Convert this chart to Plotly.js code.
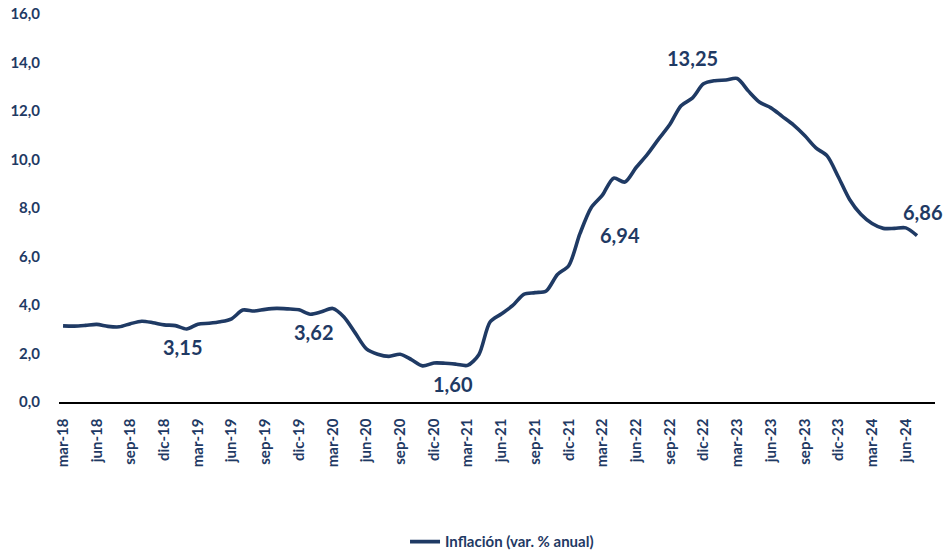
<!DOCTYPE html>
<html>
<head>
<meta charset="utf-8">
<script src="https://cdn.plot.ly/plotly-3.0.1.min.js"></script>
<style>
  html, body { margin: 0; padding: 0; background: #ffffff; }
  #chart { width: 946px; height: 552px; }
</style>
</head>
<body>
<div id="chart"></div>
<script>
// Month names (Spanish abbreviations) and years used to label the monthly categories
const monthNames = ['ene','feb','mar','abr','may','jun','jul','ago','sep','oct','nov','dic'];
const startYear = 2018, startMonth = 2; // mar-18 (0-based month index)

// Annual inflation (var. % anual), monthly from mar-18 to jul-24
const inflation2018 = [3.14, 3.13, 3.16, 3.20, 3.12, 3.10, 3.23, 3.33, 3.27, 3.18];            // mar-dic
const inflation2019 = [3.15, 3.01, 3.21, 3.25, 3.31, 3.43, 3.79, 3.75, 3.82, 3.86, 3.84, 3.80];
const inflation2020 = [3.62, 3.72, 3.86, 3.51, 2.85, 2.19, 1.97, 1.88, 1.97, 1.75, 1.49, 1.61];
const inflation2021 = [1.60, 1.56, 1.51, 1.95, 3.30, 3.63, 3.97, 4.44, 4.51, 4.58, 5.26, 5.62];
const inflation2022 = [6.94, 8.01, 8.53, 9.23, 9.07, 9.67, 10.21, 10.84, 11.44, 12.22, 12.53, 13.12];
const inflation2023 = [13.25, 13.28, 13.34, 12.82, 12.36, 12.13, 11.78, 11.43, 10.99, 10.48, 10.15, 9.28];
const inflation2024 = [8.35, 7.74, 7.36, 7.16, 7.16, 7.18, 6.86];                               // ene-jul

const values = [].concat(inflation2018, inflation2019, inflation2020, inflation2021,
                         inflation2022, inflation2023, inflation2024);

// Category labels
const categories = values.map((v, i) => {
  const m = (startMonth + i) % 12;
  const y = startYear + Math.floor((startMonth + i) / 12);
  return monthNames[m] + '-' + String(y).slice(2);
});

// Tick labels shown every 3 months (mar, jun, sep, dic)
const tickLabels = categories.filter((c, i) => i % 3 === 0);

// Highlighted data labels
const labelledMonths = ['ene-19', 'ene-20', 'ene-21', 'ene-22', 'ene-23', 'jul-24'];
const labelOffsets = {
  'ene-19': [7, -21], 'ene-20': [3, -18], 'ene-21': [8, -21],
  'ene-22': [40, -1], 'ene-23': [-22, 23], 'jul-24': [5, 24]
};

const blue = '#1F3A64';
const font = 'Lato, "Open Sans", sans-serif';

const trace = {
  type: 'scatter',
  mode: 'lines',
  name: 'Inflación (var. % anual)',
  x: categories,
  y: values,
  line: { color: blue, width: 3.6, shape: 'spline', smoothing: 0.8 },
  hoverinfo: 'x+y'
};

const annotations = labelledMonths.map(c => {
  const i = categories.indexOf(c);
  return {
    x: c, y: values[i], xref: 'x', yref: 'y',
    text: values[i].toFixed(2).replace('.', ','),
    showarrow: false,
    xshift: labelOffsets[c][0], yshift: labelOffsets[c][1],
    font: { family: font, size: 20, color: blue, weight: 'bold' }
  };
});

const layout = {
  width: 946, height: 552,
  margin: { l: 59, r: 11, t: 14, b: 150, pad: 0, autoexpand: false },
  paper_bgcolor: '#ffffff', plot_bgcolor: '#ffffff',
  separators: ',.',
  font: { family: font, color: blue, weight: 'bold' },
  showlegend: true,
  legend: {
    orientation: 'h', x: 0.395, xanchor: 'left', y: -0.318, yanchor: 'top',
    font: { family: font, size: 15, color: blue, weight: 'bold' },
    bgcolor: 'rgba(0,0,0,0)'
  },
  xaxis: {
    type: 'category',
    automargin: false,
    range: [-0.36, 77.6],
    tickmode: 'array',
    tickvals: tickLabels,
    ticktext: tickLabels,
    tickangle: -90,
    ticks: 'outside', ticklen: 9, tickcolor: 'rgba(0,0,0,0)',
    tickfont: { family: font, size: 15, color: blue, weight: 'bold' },
    showline: true, linecolor: '#000000', linewidth: 1.6,
    showgrid: false, zeroline: false
  },
  yaxis: {
    automargin: false,
    range: [0, 16],
    dtick: 2, tick0: 0,
    tickformat: '.1f',
    ticks: 'outside', ticklen: 15, tickcolor: 'rgba(0,0,0,0)',
    tickfont: { family: font, size: 15, color: blue, weight: 'bold' },
    showline: false, showgrid: false, zeroline: false
  },
  annotations: annotations
};

Plotly.newPlot('chart', [trace], layout, { displayModeBar: false, staticPlot: true });
</script>
</body>
</html>
